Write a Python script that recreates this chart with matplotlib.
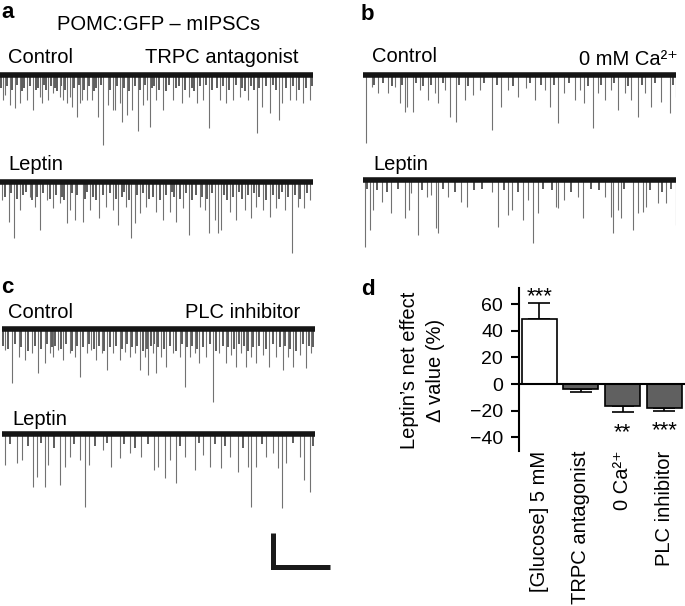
import matplotlib.pyplot as plt
import numpy as np

plt.rcParams['font.family'] = ['Liberation Sans', 'DejaVu Sans']

# ---- mIPSC traces: event times (s) and amplitudes (pA, inward = down) ----
a_ctrl_t = [0.5, 0.9, 1.8, 2.6, 3.5, 4.7, 5.8, 7.0, 7.4, 8.4, 9.3, 10.5, 11.1, 11.8, 12.3, 12.6, 13.5, 14.0, 14.4,
            15.3, 16.1, 17.2, 18.1, 18.9, 19.8, 20.2, 21.1, 21.4, 22.3, 23.2, 24.2, 25.1, 25.8, 26.3, 27.5, 28.6,
            30.4, 31.9, 33.3, 34.6, 35.6, 36.8, 38.6, 39.8, 40.9, 42.1, 43.5, 45.1, 46.1, 47.4, 49.1, 49.6, 50.9,
            52.1, 53.2, 54.4]
a_ctrl_amp = [15, 12, 18, 20, 17, 15, 21, 13, 17, 15, 11, 13, 15, 17, 13, 19, 25, 17, 15, 15, 15, 25, 41.5, 18, 21,
              21, 17, 28, 24, 21, 33, 18, 15, 31, 15, 21, 15, 17, 13, 17, 15, 31.5, 15, 17, 15, 13, 15, 34.4, 19,
              22.6, 26.8, 17, 15, 15, 17, 15]
a_ctrl_small_t = [0.2, 1.2, 2.1, 3.0, 3.9, 4.3, 5.2, 6.3, 6.6, 7.8, 8.0, 8.9, 9.7, 10.1, 10.8, 11.5, 13.0, 13.8,
                  14.8, 15.7, 16.5, 16.9, 17.7, 19.3, 20.6, 21.8, 22.7, 23.7, 24.6, 25.4, 26.8, 27.1, 28.0, 29.1,
                  29.7, 30.9, 31.4, 32.5, 33.8, 34.1, 35.1, 36.2, 37.3, 38.1, 39.2, 40.3, 41.5, 42.6, 43.0, 44.1,
                  44.6, 45.6, 46.7, 47.9, 48.5, 50.3, 51.5, 52.6, 53.7, 54.8]
a_ctrl_small_amp = [8, 7, 9, 6, 10, 8, 7, 9, 8, 6, 9, 7, 8, 10, 7, 9, 8, 6, 9, 7, 10, 8, 6, 9, 7, 8, 10, 7, 9, 6,
                    8, 7, 9, 10, 6, 8, 7, 9, 8, 10, 7, 6, 9, 8, 7, 9, 6, 8, 10, 7, 9, 8, 7, 6, 9, 8, 7, 9, 8, 7]

a_lep_t = [0.3, 1.5, 2.5, 3.5, 5.3, 6.1, 7.0, 8.2, 9.4, 10.5, 11.7, 12.3, 13.2, 14.5, 15.8, 17.4, 18.7, 19.9, 20.8,
           22.2, 23.1, 23.7, 24.6, 25.7, 27.5, 28.7, 29.8, 31.0, 32.2, 33.3, 35.1, 36.0, 36.7, 37.7, 38.3, 38.9,
           40.4, 41.5, 43.0, 44.2, 45.0, 46.2, 47.4, 48.5, 50.0, 51.3, 52.3, 53.5, 54.4]
a_lep_amp = [10.9, 23.6, 33.4, 16.8, 8.9, 14.8, 28.5, 10.9, 15.8, 12.8, 24.6, 16.8, 22.6, 23.6, 16.8, 21.6, 14.8,
             16.8, 25.6, 14.8, 33.4, 24.6, 18.7, 14.8, 17.8, 22.6, 17.8, 23.6, 15.8, 31.5, 14.8, 16.8, 30.5, 22.6,
             30.5, 28.5, 17.8, 22.6, 16.8, 21.6, 14.8, 16.8, 20.7, 15.8, 16.8, 42.2, 14.8, 15.8, 10.9]
a_lep_small_t = [0.8, 1.9, 2.9, 4.1, 4.6, 5.7, 6.5, 7.6, 8.7, 9.9, 10.9, 11.3, 12.7, 13.6, 14.9, 15.3, 16.4, 16.9,
                 18.1, 19.3, 20.3, 21.4, 21.8, 22.6, 24.0, 25.1, 26.2, 26.9, 28.2, 29.2, 30.3, 30.6, 31.6, 32.7,
                 33.8, 34.4, 35.5, 36.4, 37.3, 39.4, 39.9, 40.9, 42.0, 42.5, 43.5, 44.6, 45.6, 46.7, 47.9, 49.1,
                 49.6, 50.6, 51.8, 52.8, 53.9]
a_lep_small_amp = [9, 7, 10, 8, 6, 11, 9, 7, 10, 8, 9, 11, 7, 8, 10, 6, 9, 11, 8, 7, 10, 9, 6, 11, 8, 7, 10, 9, 11,
                   8, 6, 9, 10, 7, 11, 8, 9, 10, 7, 8, 11, 9, 6, 10, 8, 7, 9, 11, 8, 10, 6, 9, 8, 10, 7]

b_ctrl_t = [0.6, 1.5, 2.7, 4.4, 5.6, 6.5, 7.4, 7.7, 8.8, 10.0, 11.5, 12.6, 13.2, 14.4, 15.3, 16.4, 17.9, 19.4, 20.5,
            22.6, 24.3, 25.5, 27.3, 28.7, 30.2, 31.9, 32.8, 34.3, 35.4, 37.2, 38.1, 38.9, 40.4, 41.3, 42.5, 43.6,
            44.8, 46.0, 47.1, 48.3, 49.5, 50.6, 52.4, 53.9, 55.0]
b_ctrl_amp = [40.3, 7.2, 11.1, 11.1, 7.2, 16.9, 21.9, 18.9, 21.9, 9.1, 15, 11.1, 16.9, 9.1, 24.8, 27.8, 15, 12.1,
              9.1, 32.6, 18.9, 9.1, 13.1, 8.1, 15, 9.1, 18.9, 28.7, 11.1, 15, 9.1, 16.9, 31.6, 11.1, 15, 9.1, 20.9,
              11.1, 15, 24.8, 11.1, 18.9, 16, 22.8, 13.1]
b_ctrl_small_t = [2.0, 3.5, 5.1, 6.9, 9.3, 10.6, 12.0, 14.0, 16.9, 18.5, 21.2, 23.5, 26.4, 29.4, 31.2, 33.6, 36.2,
                  39.6, 41.9, 44.2, 46.6, 49.0, 51.4, 54.5]
b_ctrl_small_amp = [6, 5, 7, 6, 5, 7, 6, 5, 6, 7, 5, 6, 7, 5, 6, 6, 5, 7, 6, 5, 7, 6, 5, 6]

b_lep_t = [0.35, 1.2, 1.8, 3.3, 5.0, 7.4, 8.0, 8.5, 9.7, 11.2, 12.0, 12.9, 13.2, 15.0, 17.3, 18.2, 22.6, 23.7, 25.5,
           26.1, 28.1, 29.0, 29.9, 30.8, 34.0, 34.3, 35.4, 37.8, 38.7, 42.5, 43.6, 43.9, 44.8, 45.4, 47.4, 48.3,
           49.2, 49.8, 51.8, 53.3, 55.0]
b_lep_amp = [39.2, 29.4, 17.6, 12.7, 19.6, 22.5, 17.6, 7.8, 32.4, 9.8, 8.8, 28.4, 31.4, 9.8, 12.7, 15.7, 6.9, 27.5,
             20.6, 17.6, 23.5, 11.8, 37.3, 19.6, 15.7, 16.7, 11.8, 9.8, 22.5, 9.8, 21.6, 31.4, 17.6, 22.5, 29.4,
             19.6, 18.6, 15.7, 13.7, 13.7, 26.5]
b_lep_small_t = [0.7, 2.4, 4.2, 6.1, 10.4, 14.1, 16.2, 19.5, 21.0, 24.8, 27.2, 31.6, 33.2, 36.6, 40.1, 41.4, 45.9,
                 50.5, 52.6, 54.2]
b_lep_small_amp = [5, 6, 7, 5, 6, 5, 7, 6, 5, 6, 7, 5, 6, 7, 5, 6, 5, 6, 7, 5]

c_ctrl_t = [0.5, 1.7, 2.9, 4.0, 5.2, 6.4, 7.5, 8.4, 9.0, 9.9, 10.8, 11.9, 12.8, 13.7, 14.9, 15.7, 16.6, 17.5, 18.4,
            19.5, 20.7, 21.6, 22.5, 23.3, 24.2, 25.1, 25.7, 26.5, 27.1, 28.0, 28.9, 30.1, 31.2, 32.1, 33.0, 33.9,
            34.7, 35.9, 37.1, 38.2, 39.4, 40.3, 41.2, 42.0, 42.9, 43.8, 44.7, 45.8, 47.0, 48.2, 49.4, 50.2, 51.1,
            52.3, 53.5, 54.3]
c_ctrl_amp = [12.6, 32.2, 16.6, 18.5, 14.6, 26.4, 20.5, 14.6, 16.6, 12.6, 18.5, 14.6, 16.6, 28.4, 14.6, 12.6, 18.5,
              14.6, 24.4, 14.6, 18.5, 13.6, 16.6, 14.6, 24.4, 16.6, 27.4, 14.6, 26.4, 16.6, 22.5, 14.6, 16.6, 34.2,
              16.6, 14.6, 20.5, 16.6, 43, 14.6, 20.5, 15.6, 22.5, 14.6, 22.5, 16.6, 20.5, 15.6, 22.5, 16.6, 24.4,
              16.6, 22.5, 15.6, 23.4, 14.6]
c_ctrl_small_t = [0.2, 1.1, 2.3, 3.4, 4.6, 5.8, 6.9, 7.9, 8.7, 9.4, 10.3, 11.3, 12.3, 13.2, 14.3, 15.3, 16.1, 17.0,
                  17.9, 19.0, 20.1, 21.1, 22.0, 22.9, 23.8, 24.7, 25.4, 26.1, 26.8, 27.5, 28.4, 29.5, 30.6, 31.7,
                  32.5, 33.4, 34.3, 35.3, 36.5, 37.6, 38.8, 39.8, 40.7, 41.6, 42.5, 43.3, 44.2, 45.2, 46.4, 47.6,
                  48.8, 49.8, 50.7, 51.7, 52.9, 53.9, 54.7]
c_ctrl_small_amp = [10, 12, 9, 11, 13, 10, 12, 9, 11, 10, 12, 9, 13, 10, 11, 9, 12, 10, 13, 11, 10, 12, 9, 11, 10,
                    13, 12, 10, 9, 11, 12, 10, 13, 9, 11, 10, 12, 11, 9, 13, 10, 11, 12, 9, 10, 13, 11, 10, 12, 9,
                    11, 10, 12, 13, 9, 10, 11]

c_lep_t = [0.5, 2.6, 3.5, 5.5, 6.1, 7.5, 8.1, 10.2, 11.1, 11.9, 13.7, 14.6, 15.3, 17.8, 19.2, 20.7, 22.5, 24.5, 26.8,
           27.4, 28.6, 29.5, 30.6, 32.1, 33.9, 35.3, 36.5, 38.5, 40.0, 41.5, 43.2, 43.8, 44.7, 46.4, 47.6, 48.5,
           49.2, 49.9, 52.3, 53.0, 54.2]
c_lep_amp = [18.2, 17.3, 15.3, 31, 25.1, 31, 18.2, 30, 19.2, 13.3, 15.3, 43.1, 18.2, 9.4, 19.2, 14.3, 11.4, 13.3,
             21.2, 19.2, 26.1, 15.3, 29, 13.3, 21.2, 12.4, 19.2, 20.2, 13.3, 22.2, 19.2, 43.1, 19.2, 13.3, 11.4,
             20.2, 43.7, 17.3, 13.3, 27.1, 33.9]
c_lep_small_t = [1.4, 4.5, 6.8, 9.2, 12.6, 16.3, 18.5, 21.5, 23.4, 25.6, 31.3, 34.6, 37.4, 39.2, 42.4, 45.7, 51.2,
                 54.7]
c_lep_small_amp = [6, 7, 5, 8, 6, 7, 5, 6, 8, 6, 7, 5, 6, 7, 8, 6, 5, 7]

scale_t = 10   # s
scale_amp = 20  # pA

# ---- panel d ----
groups = ['[Glucose] 5 mM', 'TRPC antagonist', '0 Ca\u00b2\u207a', 'PLC inhibitor']
net_effect = [48.8, -3.5, -16.3, -17.8]
net_sem = [11.7, 2.2, 5.0, 2.2]
stars = ['***', '', '**', '***']

W, H = 685, 606
PX_S = 5.69   # px per second
PX_PA = 1.7   # px per pA
T_END = 55

fig = plt.figure(figsize=(W / 100, H / 100), dpi=100)


def px_text(x, y, s, **kw):
    fig.text(x / W, 1 - y / H, s, va='baseline', **kw)


def draw_trace(x0, base, t, amp, small_t, small_amp):
    ax = fig.add_axes([x0 / W, 1 - (base + 46 * PX_PA) / H, T_END * PX_S / W, 50 * PX_PA / H])
    ax.vlines(small_t, 0, -np.array(small_amp), color='#383838', lw=1.15)
    ax.vlines(t, 0, -np.array(amp), color='#727272', lw=0.8)
    ax.plot([0, T_END], [0, 0], color='#151515', lw=4.0, solid_capstyle='butt')
    ax.set_xlim(0, T_END)
    ax.set_ylim(-46, 4)
    ax.axis('off')
    return ax


draw_trace(0, 74.5, a_ctrl_t, a_ctrl_amp, a_ctrl_small_t, a_ctrl_small_amp)
draw_trace(0, 181.5, a_lep_t, a_lep_amp, a_lep_small_t, a_lep_small_amp)
draw_trace(363, 74.5, b_ctrl_t, b_ctrl_amp, b_ctrl_small_t, b_ctrl_small_amp)
draw_trace(363, 180, b_lep_t, b_lep_amp, b_lep_small_t, b_lep_small_amp)
draw_trace(2, 328.5, c_ctrl_t, c_ctrl_amp, c_ctrl_small_t, c_ctrl_small_amp)
ax_cl = draw_trace(2, 434, c_lep_t, c_lep_amp, c_lep_small_t, c_lep_small_amp)

# scale bar
sx, sy = 47.7, -78.5
ax_cl.plot([sx, sx, sx + scale_t], [sy + scale_amp, sy, sy], color='#1a1a1a', lw=3.6,
           solid_joinstyle='miter', solid_capstyle='butt', clip_on=False)

fs = 14.5
px_text(1, 18, 'a', fontsize=16, fontweight='bold')
px_text(57, 30, 'POMC:GFP – mIPSCs', fontsize=fs)
px_text(8, 62.7, 'Control', fontsize=fs)
px_text(145, 62.7, 'TRPC antagonist', fontsize=fs)
px_text(8, 170, 'Leptin', fontsize=fs)
px_text(361, 20, 'b', fontsize=16, fontweight='bold')
px_text(372, 61.7, 'Control', fontsize=fs)
px_text(678, 65, '0 mM Ca\u00b2\u207a', fontsize=fs, ha='right')
px_text(373, 170, 'Leptin', fontsize=fs)
px_text(1, 293, 'c', fontsize=16, fontweight='bold')
px_text(8, 318, 'Control', fontsize=fs)
px_text(185, 318, 'PLC inhibitor', fontsize=fs)
px_text(12, 425, 'Leptin', fontsize=fs)
px_text(361, 295, 'd', fontsize=16, fontweight='bold')

# bar chart
ax = fig.add_axes([518.5 / W, 1 - 450.7 / H, 166.5 / W, 162.7 / H])
x = np.arange(len(groups))
vals = np.array(net_effect)
sem = np.array(net_sem)
bar_colors = ['white', '#606060', '#606060', '#606060']
ax.bar(x, vals, width=0.84, color=bar_colors, edgecolor='black', linewidth=1.2, zorder=2)
lower = np.where(vals < 0, sem, 0)
upper = np.where(vals > 0, sem, 0)
ax.errorbar(x, vals, yerr=[lower, upper], fmt='none', ecolor='black', elinewidth=1.2,
            capsize=8, capthick=1.2, zorder=1)
ax.axhline(0, color='black', lw=1.5, zorder=3)
for xi, v, e, s in zip(x, vals, sem, stars):
    if not s:
        continue
    y = v + e + 0.5 if v > 0 else v - e - 19
    ax.text(xi, y, s, ha='center', va='baseline', fontsize=16)

ax.set_xlim(-0.5, 3.5)
ax.set_ylim(-50, 72)
ax.set_yticks([-40, -20, 0, 20, 40, 60])
ax.tick_params(axis='y', labelsize=14, length=6, width=1.5, pad=5)
ax.set_xticks(x)
ax.set_xticklabels(groups, rotation=90, fontsize=fs)
ax.tick_params(axis='x', length=0, pad=0)
for sp in ['top', 'right', 'bottom']:
    ax.spines[sp].set_visible(False)
ax.spines['left'].set_linewidth(1.5)
ax.set_ylabel('Leptin\u2019s net effect\n\u0394 value (%)', fontsize=fs, linespacing=1.45)
ax.yaxis.set_label_coords(-0.441, 0.496)

fig.savefig('out.png', dpi=100)
